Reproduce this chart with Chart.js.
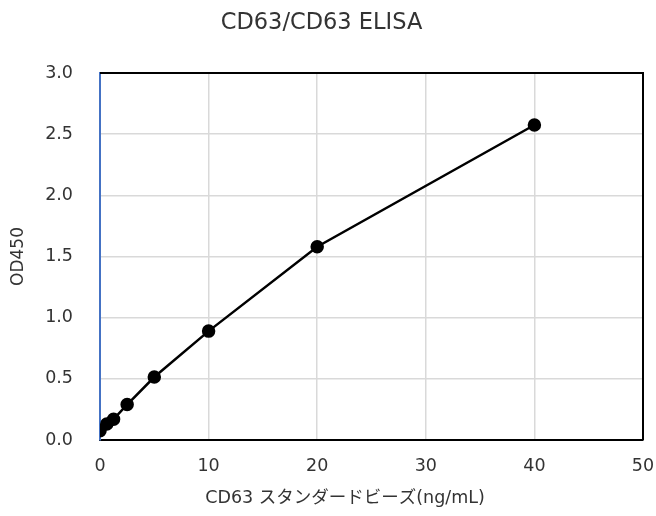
<!DOCTYPE html>
<html>
<head>
<meta charset="utf-8">
<script src="https://cdn.jsdelivr.net/npm/chart.js@4"></script>
<style>
  html, body { margin: 0; padding: 0; background: #fff; overflow: hidden; }
  #wrap { width: 656px; height: 516px; }
</style>
</head>
<body>
<div id="wrap"><canvas id="grafico"></canvas></div>
<script>
const concentracoes = [0, 0.625, 1.25, 2.5, 5, 10, 20, 40];
const od450 = [0.075, 0.13, 0.17, 0.29, 0.515, 0.89, 1.58, 2.575];
const tituloGrafico = "CD63/CD63 ELISA";
const tituloX = "CD63 スタンダードビーズ(ng/mL)";
const tituloY = "OD450";

const fonte = "'DejaVu Sans', 'Noto Sans CJK JP', sans-serif";

// moldura: topo e direita em preto, e título do eixo X
const molduraPlugin = {
  id: "moldura",
  afterDraw(chart) {
    const { ctx, chartArea: a } = chart;
    ctx.save();
    ctx.strokeStyle = "#000";
    ctx.lineWidth = 2;
    ctx.beginPath();
    ctx.moveTo(a.left, a.top);
    ctx.lineTo(a.right, a.top);
    ctx.lineTo(a.right, a.bottom);
    ctx.stroke();
    ctx.fillStyle = "#333";
    ctx.font = "17.5px " + fonte;
    ctx.textAlign = "center";
    ctx.textBaseline = "middle";
    ctx.fillText(tituloX, 345, 498);
    ctx.restore();
  }
};

const ctx = document.getElementById("grafico");

new Chart(ctx, {
  type: "scatter",
  data: {
    datasets: [{
      data: concentracoes.map((x, i) => ({ x: x, y: od450[i] })),
      showLine: true,
      borderColor: "#000",
      backgroundColor: "#000",
      borderWidth: 2.5,
      pointRadius: 5.5,
      pointHoverRadius: 5.5
    }]
  },
  options: {
    responsive: true,
    maintainAspectRatio: false,
    animation: false,
    layout: { padding: { left: 0, right: 13, top: 0, bottom: 0 } },
    plugins: {
      legend: { display: false },
      tooltip: { enabled: false },
      title: {
        display: true,
        text: tituloGrafico,
        color: "#333",
        font: { family: fonte, size: 22.5, weight: "normal" },
        padding: { top: 10, bottom: 36 }
      }
    },
    scales: {
      x: {
        type: "linear",
        min: 0,
        max: 50,
        ticks: {
          stepSize: 10,
          color: "#333",
          padding: 16,
          font: { family: fonte, size: 17.5 }
        },
        grid: { color: "#d9d9d9", lineWidth: 1.5, drawTicks: false },
        border: { color: "#000", width: 2 },
        afterFit(scale) {
          scale.height = 76;
          scale.paddingLeft = 0;
          scale.paddingRight = 0;
        }
      },
      y: {
        min: 0,
        max: 3,
        ticks: {
          stepSize: 0.5,
          color: "#333",
          padding: 27,
          font: { family: fonte, size: 17.5 },
          callback: v => v.toFixed(1)
        },
        grid: { color: "#d9d9d9", lineWidth: 1.5, drawTicks: false },
        border: { color: "#4472c4", width: 2 },
        title: {
          display: true,
          text: tituloY,
          color: "#333",
          font: { family: fonte, size: 17 },
          padding: { top: 8, bottom: 0 }
        },
        afterFit(scale) { scale.width = 100; }
      }
    }
  },
  plugins: [molduraPlugin]
});
</script>
</body>
</html>
